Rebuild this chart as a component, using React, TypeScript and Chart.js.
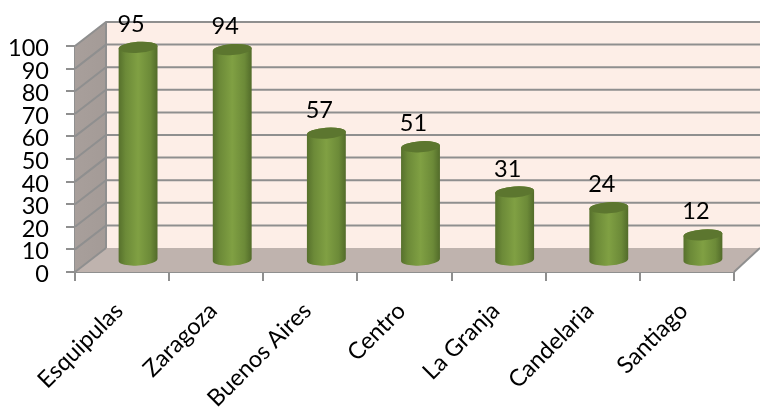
import React, { useEffect, useRef } from "react";
import { Chart, registerables } from "chart.js";

Chart.register(...registerables);

const categories = ["Esquipulas", "Zaragoza", "Buenos Aires", "Centro", "La Granja", "Candelaria", "Santiago"];
const values = [95, 94, 57, 51, 31, 24, 12];

const FONT = "Lato, Carlito, 'Open Sans', sans-serif";
const GRID = "#8f8f8f";
const DX = 31;
const DY = -24;

const wallsPlugin = {
  id: "walls",
  beforeDatasetsDraw(chart: any) {
    const { ctx, chartArea: a, scales } = chart;
    const y = scales.y;
    ctx.save();
    ctx.fillStyle = "#fdeee7";
    ctx.fillRect(a.left + DX, a.top + DY, 760 - a.left - DX, a.bottom - a.top);
    const g = ctx.createLinearGradient(a.left, 0, a.left + DX, 0);
    g.addColorStop(0, "#a89f9b");
    g.addColorStop(1, "#a49b97");
    ctx.fillStyle = g;
    ctx.beginPath();
    ctx.moveTo(a.left, a.top);
    ctx.lineTo(a.left + DX, a.top + DY);
    ctx.lineTo(a.left + DX, a.bottom + DY);
    ctx.lineTo(a.left, a.bottom);
    ctx.closePath();
    ctx.fill();
    ctx.fillStyle = "#bfb3ae";
    ctx.beginPath();
    ctx.moveTo(a.left, a.bottom);
    ctx.lineTo(a.left + DX, a.bottom + DY);
    ctx.lineTo(760, a.bottom + DY);
    ctx.lineTo(a.right, a.bottom);
    ctx.closePath();
    ctx.fill();
    ctx.strokeStyle = GRID;
    ctx.lineWidth = 2;
    for (const t of y.ticks) {
      const py = y.getPixelForValue(t.value);
      ctx.beginPath();
      ctx.moveTo(a.left, py);
      ctx.lineTo(a.left + DX, py + DY);
      if (t.value > 0) ctx.lineTo(760, py + DY);
      ctx.stroke();
    }
    ctx.beginPath();
    ctx.moveTo(a.left + DX, a.top + DY);
    ctx.lineTo(a.left + DX, a.bottom + DY);
    ctx.stroke();
    ctx.beginPath();
    ctx.moveTo(a.right, a.bottom);
    ctx.lineTo(760, a.bottom + DY);
    ctx.stroke();
    ctx.restore();
  },
};

const cylinderPlugin = {
  id: "cylinders",
  afterDatasetsDraw(chart: any) {
    const { ctx } = chart;
    const meta = chart.getDatasetMeta(0);
    const tilt = -0.07;
    const ry = 5.5;
    meta.data.forEach((bar: any, i: number) => {
      const cx = bar.x + 16;
      const rx = bar.width / 2;
      const topY = bar.y - 10;
      const baseY = bar.base - 11;
      const grad = ctx.createLinearGradient(cx - rx, 0, cx + rx, 0);
      grad.addColorStop(0, "#56702c");
      grad.addColorStop(0.18, "#6c8a38");
      grad.addColorStop(0.5, "#80a043");
      grad.addColorStop(0.82, "#6c8a38");
      grad.addColorStop(1, "#526b2a");
      ctx.save();
      ctx.fillStyle = grad;
      ctx.beginPath();
      ctx.ellipse(cx, baseY, rx, ry, tilt, 0, Math.PI);
      ctx.ellipse(cx, topY, rx, ry, tilt, Math.PI, 0);
      ctx.closePath();
      ctx.fill();
      ctx.fillStyle = "#5c762f";
      ctx.beginPath();
      ctx.ellipse(cx, topY, rx, ry, tilt, 0, Math.PI * 2);
      ctx.fill();
      ctx.fillStyle = "#000";
      ctx.font = `23.5px ${FONT}`;
      ctx.textAlign = "center";
      ctx.textBaseline = "middle";
      ctx.fillText(String(values[i]), cx - 7, topY - 23);
      ctx.restore();
    });
  },
};

export default function App() {
  const ref = useRef<HTMLCanvasElement>(null);
  useEffect(() => {
    const chart = new Chart(ref.current!, {
      type: "bar",
      data: {
        labels: categories,
        datasets: [
          {
            data: values,
            backgroundColor: "rgba(0,0,0,0)",
            borderWidth: 0,
            categoryPercentage: 1,
            barPercentage: 0.414,
          },
        ],
      },
      options: {
        animation: false,
        responsive: false,
        devicePixelRatio: 1,
        layout: { padding: { left: 0, top: 46, right: 26, bottom: 0 } },
        plugins: { legend: { display: false }, tooltip: { enabled: false }, title: { display: false } },
        scales: {
          x: {
            afterFit(s: any) {
              s.height = 141;
            },
            grid: {
              offset: true,
              drawOnChartArea: false,
              color: GRID,
              lineWidth: 2,
              tickLength: 9,
            },
            border: { color: GRID, width: 2 },
            ticks: {
              autoSkip: false,
              maxRotation: 45,
              minRotation: 45,
              color: "#000",
              padding: 16,
              labelOffset: -3,
              font: { family: FONT, size: 23.5 },
            },
          },
          y: {
            min: 0,
            max: 100,
            afterFit(s: any) {
              s.width = 75;
            },
            grid: { drawOnChartArea: false, color: GRID, lineWidth: 2, tickLength: 9 },
            border: { color: GRID, width: 2 },
            ticks: {
              stepSize: 10,
              autoSkip: false,
              labelOffset: 2.5,
              color: "#000",
              padding: 17,
              font: { family: FONT, size: 23.5 },
            },
          },
        },
      },
      plugins: [wallsPlugin, cylinderPlugin],
    } as any);
    return () => chart.destroy();
  }, []);
  return (
    <div style={{ position: "fixed", left: 0, top: 0, width: 760, height: 413, background: "#fff" }}>
      <canvas ref={ref} width={760} height={413} style={{ display: "block" }} />
    </div>
  );
}
